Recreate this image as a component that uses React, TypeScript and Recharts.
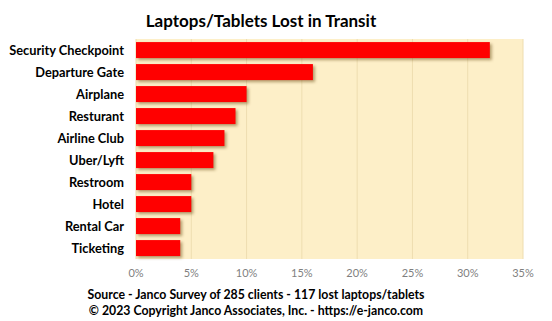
import React from 'react';
import { BarChart, Bar, XAxis, YAxis, CartesianGrid } from 'recharts';

const locations = [
  'Security Checkpoint',
  'Departure Gate',
  'Airplane',
  'Resturant',
  'Airline Club',
  'Uber/Lyft',
  'Restroom',
  'Hotel',
  'Rental Car',
  'Ticketing',
];
const lostShare = [0.32, 0.16, 0.1, 0.09, 0.08, 0.07, 0.05, 0.05, 0.04, 0.04];
const xTicks = [0, 0.05, 0.1, 0.15, 0.2, 0.25, 0.3, 0.35];

const data = locations.map((name, i) => ({ name, value: lostShare[i] }));

const FONT = 'Lato, "Open Sans", sans-serif';

// red bar with the soft shadow Excel adds
const ShadowBar = (props: any) => {
  const { x, y, width, height } = props;
  if (!width || width <= 0) return null;
  return (
    <rect
      x={x}
      y={y}
      width={width}
      height={height}
      fill="#FF0000"
      style={{ filter: 'drop-shadow(2px 2px 1.5px rgba(90,60,0,0.45))' }}
    />
  );
};

export default function App() {
  return (
    <div style={{ position: 'absolute', left: 0, top: 0, width: 552, height: 321, background: '#fff', fontFamily: FONT }}>
      <div
        style={{
          position: 'absolute',
          left: 0,
          width: 522,
          top: 10,
          textAlign: 'center',
          fontSize: 17,
          fontWeight: 700,
          color: '#000',
        }}
      >
        Laptops/Tablets Lost in Transit
      </div>
      <BarChart
        width={552}
        height={321}
        data={data}
        layout="vertical"
        margin={{ top: 39, right: 29, bottom: 42, left: 0 }}
        barCategoryGap="14%"
      >
        <CartesianGrid
          horizontal={false}
          fill="#FDEFC8"
          stroke="#EEDDB0"
          verticalValues={xTicks}
        />
        <XAxis
          type="number"
          domain={[0, 0.35]}
          ticks={xTicks}
          tickFormatter={(v: number) => `${Math.round(v * 100)}%`}
          axisLine={false}
          tickLine={false}
          tick={{ fill: '#7f7f7f', fontSize: 11, fontFamily: FONT }}
          tickMargin={4}
          height={20}
        />
        <YAxis
          type="category"
          dataKey="name"
          width={136}
          axisLine={false}
          tickLine={false}
          tick={{ fill: '#000', fontSize: 12.8, fontWeight: 700, fontFamily: FONT }}
          tickMargin={6}
          interval={0}
        />
        <Bar dataKey="value" shape={ShadowBar} isAnimationActive={false} />
      </BarChart>
      <div
        style={{
          position: 'absolute',
          left: 0,
          width: 512,
          top: 287,
          textAlign: 'center',
          fontSize: 12.3,
          fontWeight: 700,
          lineHeight: '16px',
          color: '#000',
        }}
      >
        <div>Source - Janco Survey of 285 clients - 117 lost laptops/tablets</div>
        <div>© 2023 Copyright Janco Associates, Inc. - https://e-janco.com</div>
      </div>
    </div>
  );
}
